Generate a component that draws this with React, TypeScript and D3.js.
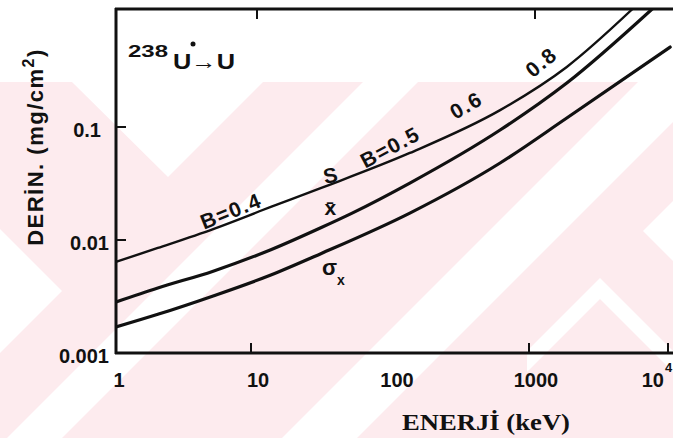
import React from "react";
import * as d3 from "d3";

// ---- data ----
const energyS = [1, 2, 5, 13, 30, 130, 580, 1750, 5200];
const depthS = [0.0064, 0.0085, 0.0125, 0.0196, 0.0289, 0.0589, 0.141, 0.34, 1.107];

const energyXbar = [1, 2, 5, 13, 30, 50, 130, 580, 1750, 7200];
const depthXbar = [0.00283, 0.00376, 0.0053, 0.0082, 0.0129, 0.0173, 0.0319, 0.094, 0.245, 1.107];

const energySigma = [1, 2, 5, 13, 30, 130, 580, 1750, 9700];
const depthSigma = [0.0017, 0.0022, 0.0032, 0.0049, 0.0076, 0.0173, 0.048, 0.12, 0.51];

const xDomain = [1, 10000];
const yDomain = [0.001, 1.107];

const xTickValues = [1, 10, 100, 1000];
const xTickLabels = ["1", "10", "100", "1000"];
const yTickValues = [0.1, 0.01, 0.001];
const yTickLabels = ["0.1", "0.01", "0.001"];
const bottomTickMarks = [10, 1000, 10000];
const topTickMarks = [10, 1000];
const leftTickMarks = [0.01, 0.1];

// annotations
const annoTexts = ["B=0.4", "S", "x̄", "B=0.5", "0.6", "0.8"];
const annoEnergy = [6.72, 35.2, 35.2, 93.6, 330, 1142];
const annoDepth = [0.0181, 0.0376, 0.0192, 0.0665, 0.156, 0.376];
const annoAngle = [-22, -12, 0, -28, -30, -40];

const W = 673;
const H = 438;
const M = { left: 116, right: 672, top: 9, bottom: 353 };
const INK = "#111";
const PINK = "#fdebee";
const FONT = "'Liberation Sans', Arial, sans-serif";

export default function App() {
  const x = d3.scaleLog().domain(xDomain).range([M.left, M.right]);
  const y = d3.scaleLog().domain(yDomain).range([M.bottom, M.top]);

  const line = d3
    .line<[number, number]>()
    .x((d) => x(d[0]))
    .y((d) => y(d[1]))
    .curve(d3.curveMonotoneX);

  const pS = line(energyS.map((e, i) => [e, depthS[i]] as [number, number])) || "";
  const pX = line(energyXbar.map((e, i) => [e, depthXbar[i]] as [number, number])) || "";
  const pG = line(energySigma.map((e, i) => [e, depthSigma[i]] as [number, number])) || "";

  const wmTop = 82;
  const band = (a: number, b: number) =>
    `M${a - wmTop},${wmTop} L${b - wmTop},${wmTop} L${b - H},${H} L${a - H},${H} Z`;

  return (
    <svg width={W} height={H} style={{ position: "absolute", left: 0, top: 0, background: "#fff" }}>
      <defs>
        <clipPath id="plotClip">
          <rect x={M.left} y={M.top} width={W - M.left} height={M.bottom - M.top} />
        </clipPath>
        <clipPath id="wmClip">
          <rect x={0} y={wmTop} width={W} height={H - wmTop} />
        </clipPath>
      </defs>
      <g clipPath="url(#wmClip)">
        <rect x={0} y={wmTop} width={W} height={H - wmTop} fill={PINK} />
        <path d={`M72,${wmTop} L263,${wmTop} L168,177 Z`} fill="#fff" />
        <path d="M0,229 L62,291 L0,353 Z" fill="#fff" />
        <path d={band(445, 500)} fill="#fff" />
        <path d={band(720, 795)} fill="#fff" />
        <path d="M643,231 L673,201 L673,261 Z" fill="#fff" />
        <path d="M600,278 L673,351 L673,372 L600,299 L527,372 L527,351 Z" fill="#fff" />
      </g>

      {/* frame */}
      <line x1={M.left} x2={M.left} y1={M.top - 1} y2={M.bottom + 1} stroke={INK} strokeWidth={3} />
      <line x1={M.left - 1} x2={W} y1={M.bottom} y2={M.bottom} stroke={INK} strokeWidth={3} />
      <line x1={M.left - 1} x2={W} y1={M.top} y2={M.top} stroke={INK} strokeWidth={3} />

      {bottomTickMarks.map((v) => (
        <line key={"b" + v} x1={x(v) - 4} x2={x(v) - 4} y1={M.bottom} y2={M.bottom - 10} stroke={INK} strokeWidth={2} />
      ))}
      {topTickMarks.map((v) => (
        <line key={"t" + v} x1={x(v) + 2} x2={x(v) + 2} y1={M.top} y2={M.top + 10} stroke={INK} strokeWidth={2} />
      ))}
      {leftTickMarks.map((v) => (
        <line key={"l" + v} x1={M.left} x2={M.left + 10} y1={y(v)} y2={y(v)} stroke={INK} strokeWidth={2} />
      ))}

      {/* curves */}
      <g clipPath="url(#plotClip)" fill="none" stroke={INK} strokeLinecap="round">
        <path d={pS} strokeWidth={2.4} />
        <path d={pX} strokeWidth={3.2} />
        <path d={pG} strokeWidth={3.2} />
      </g>

      {/* tick labels */}
      <g fontFamily={FONT} fontWeight={700} fontSize={20} fill={INK}>
        {xTickValues.map((v, i) => (
          <text key={"xl" + v} x={x(v) + 3} y={387} textAnchor="middle">
            {xTickLabels[i]}
          </text>
        ))}
        <text x={664} y={387} textAnchor="end">10</text>
        <text x={665} y={372} fontSize={13}>4</text>
        {yTickValues.map((v, i) => (
          <text key={"yl" + v} x={i === 0 ? 101 : 109} y={y(v) + 10} textAnchor="end">
            {yTickLabels[i]}
          </text>
        ))}
      </g>

      {/* in-plot annotations */}
      <g fontFamily={FONT} fontWeight={700} fill={INK}>
        <text x={x(1.22)} y={y(0.416)} fontSize={17} textLength={40} lengthAdjust="spacingAndGlyphs">238</text>
        <text x={x(1.22) + 45} y={y(0.416) + 12} fontSize={22} textLength={62} lengthAdjust="spacingAndGlyphs">
          U→U
        </text>
        <circle cx={x(1.22) + 65} cy={y(0.416) - 13} r={2.5} fill={INK} />
        {annoTexts.map((t, i) => (
          <text
            key={"a" + i}
            transform={`translate(${x(annoEnergy[i])},${y(annoDepth[i])}) rotate(${annoAngle[i]})`}
            textAnchor="middle"
            dominantBaseline="central"
            fontSize={21}
            letterSpacing={1.5}
          >
            {t}
          </text>
        ))}
        <text x={x(35.2) - 9} y={y(0.00577) + 8} fontSize={22}>σ</text>
        <text x={x(35.2) + 6} y={y(0.00577) + 18} fontSize={14}>x</text>
      </g>

      {/* axis titles */}
      <text
        x={486}
        y={430}
        textAnchor="middle"
        fontFamily="'Liberation Serif', 'Times New Roman', serif"
        fontWeight={700}
        fontSize={24}
        fill={INK}
        textLength={168}
        lengthAdjust="spacingAndGlyphs"
      >
        ENERJİ (keV)
      </text>
      <text
        transform="translate(43,147) rotate(-90)"
        textAnchor="middle"
        fontFamily={FONT}
        fontWeight={700}
        fontSize={22}
        fill={INK}
        letterSpacing={1.5}
      >
        DERİN. (mg/cm<tspan dy={-9} fontSize={16}>2</tspan>
        <tspan dy={9}>)</tspan>
      </text>
    </svg>
  );
}
